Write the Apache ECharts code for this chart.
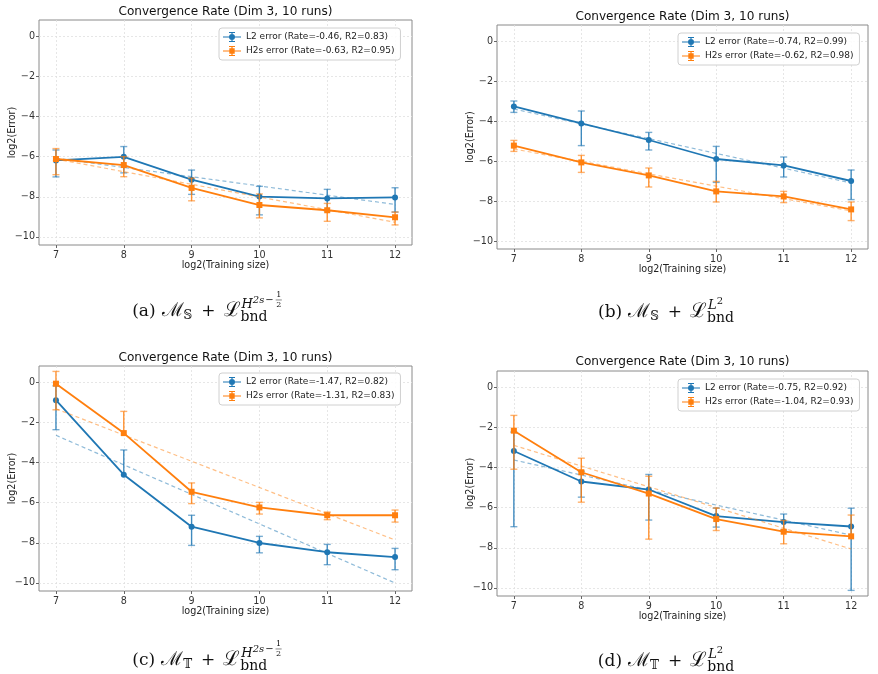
<!DOCTYPE html>
<html>
<head>
<meta charset="utf-8">
<script src="https://cdn.jsdelivr.net/npm/echarts@6/dist/echarts.min.js"></script>
<style>
  html, body { margin: 0; padding: 0; background: #fff; }
  #chart { width: 878px; height: 674px; }
</style>
</head>
<body>
<div id="chart"></div>
<script>
// log2(training size) on the x axis
const trainSize = [7, 8, 9, 10, 11, 12];
const fitX = [7, 12];
const xTicks = [7, 8, 9, 10, 11, 12];
const yTicks = [-10, -8, -6, -4, -2, 0];

// (a) M_S + L_bnd^{H^{2s-1/2}}
const aL2 = [-6.19, -6.01, -7.15, -7.99, -8.08, -8.03];
const aL2Lo = [-7.01, -6.81, -7.88, -8.9, -8.7, -8.76];
const aL2Hi = [-5.67, -5.5, -6.67, -7.48, -7.63, -7.55];
const aH2 = [-6.12, -6.42, -7.56, -8.41, -8.67, -9.02];
const aH2Lo = [-6.9, -7.0, -8.2, -9.05, -9.22, -9.4];
const aH2Hi = [-5.6, -6.0, -7.07, -7.86, -8.33, -8.76];
const aL2Fit = [-6.08, -8.38];
const aH2Fit = [-6.12, -9.27];

// (b) M_S + L_bnd^{L2}
const bL2 = [-3.27, -4.12, -4.95, -5.9, -6.22, -7.0];
const bL2Lo = [-3.57, -5.23, -5.45, -7.07, -6.8, -7.93];
const bL2Hi = [-3.0, -3.5, -4.57, -5.27, -5.8, -6.45];
const bH2 = [-5.23, -6.07, -6.72, -7.52, -7.77, -8.42];
const bH2Lo = [-5.52, -6.57, -7.3, -8.05, -8.08, -8.98];
const bH2Hi = [-4.97, -5.72, -6.35, -7.02, -7.52, -8.05];
const bL2Fit = [-3.4, -7.1];
const bH2Fit = [-5.4, -8.5];

// (c) M_T + L_bnd^{H^{2s-1/2}}
const cL2 = [-0.9, -4.61, -7.2, -8.01, -8.47, -8.71];
const cL2Lo = [-2.37, null, -8.13, -8.5, -9.09, -9.34];
const cL2Hi = [-0.19, -3.38, -6.63, -7.68, -8.08, -8.28];
const cH2 = [-0.08, -2.54, -5.46, -6.24, -6.63, -6.63];
const cH2Lo = [-1.38, null, -6.05, -6.57, -6.85, -6.97];
const cH2Hi = [0.53, -1.46, -5.02, -5.99, -6.47, -6.37];
const cL2Fit = [-2.65, -10.0];
const cH2Fit = [-1.33, -7.86];

// (d) M_T + L_bnd^{L2}
const dL2 = [-3.18, -4.7, -5.1, -6.42, -6.72, -6.94];
const dL2Lo = [-6.95, -5.48, -6.62, -6.97, -7.12, -10.12];
const dL2Hi = [-2.24, -4.19, -4.35, -6.02, -6.32, -6.03];
const dH2 = [-2.17, -4.24, -5.3, -6.57, -7.2, -7.43];
const dH2Lo = [-4.09, -5.73, -7.57, -7.14, -7.8, null];
const dH2Hi = [-1.41, -3.54, -4.44, -6.03, -6.64, -6.37];
const dL2Fit = [-3.63, -7.37];
const dH2Fit = [-2.9, -8.06];

const l2Names = [
  'L2 error (Rate=-0.46, R2=0.83)', 'L2 error (Rate=-0.74, R2=0.99)',
  'L2 error (Rate=-1.47, R2=0.82)', 'L2 error (Rate=-0.75, R2=0.92)'
];
const h2Names = [
  'H2s error (Rate=-0.63, R2=0.95)', 'H2s error (Rate=-0.62, R2=0.98)',
  'H2s error (Rate=-1.31, R2=0.83)', 'H2s error (Rate=-1.04, R2=0.93)'
];
const plotTitle = 'Convergence Rate (Dim 3, 10 runs)';
const xName = 'log2(Training size)';
const yName = 'log2(Error)';

const BLUE = '#1f77b4';
const ORANGE = '#ff7f0e';
const FONT = 'DejaVu Sans';

const panels = [
  { box: { left: 39, top: 20, width: 373, height: 225 }, leg: { left: 219, top: 28 }, titleY: 12,
    l2: [aL2, aL2Lo, aL2Hi, aL2Fit], h2: [aH2, aH2Lo, aH2Hi, aH2Fit] },
  { box: { left: 497, top: 25, width: 371, height: 224 }, leg: { left: 678, top: 33 }, titleY: 17,
    l2: [bL2, bL2Lo, bL2Hi, bL2Fit], h2: [bH2, bH2Lo, bH2Hi, bH2Fit] },
  { box: { left: 39, top: 366, width: 373, height: 225 }, leg: { left: 219, top: 373 }, titleY: 358,
    l2: [cL2, cL2Lo, cL2Hi, cL2Fit], h2: [cH2, cH2Lo, cH2Hi, cH2Fit] },
  { box: { left: 497, top: 371, width: 371, height: 225 }, leg: { left: 678, top: 379 }, titleY: 362,
    l2: [dL2, dL2Lo, dL2Hi, dL2Fit], h2: [dH2, dH2Lo, dH2Hi, dH2Fit] }
];

// legend handles: line + error bar with caps + marker
const circleIcon = 'path://M0,4.4H18V5.6H0Z M8.4,0H9.6V10H8.4Z M6,0H12V1H6Z M6,9H12V10H6Z M6,5A3,3 0 1,1 12,5A3,3 0 1,1 6,5Z';
const squareIcon = 'path://M0,4.4H18V5.6H0Z M8.4,0H9.6V10H8.4Z M6,0H12V1H6Z M6,9H12V10H6Z M6.3,2.3H11.7V7.7H6.3Z';

function errorBars(mid, lo, hi, color) {
  return function (params, api) {
    const i = params.dataIndex;
    const x = trainSize[i];
    const c = api.coord([x, mid[i]]);
    const top = api.coord([x, hi[i]]);
    const children = [
      { type: 'line', shape: { x1: c[0], y1: c[1], x2: top[0], y2: top[1] },
        style: { stroke: color, lineWidth: 1.4, opacity: 0.85 } },
      { type: 'line', shape: { x1: top[0] - 3.5, y1: top[1], x2: top[0] + 3.5, y2: top[1] },
        style: { stroke: color, lineWidth: 1.4, opacity: 0.6 } }
    ];
    if (lo[i] != null) {
      const bot = api.coord([x, lo[i]]);
      children.push(
        { type: 'line', shape: { x1: c[0], y1: c[1], x2: bot[0], y2: bot[1] },
          style: { stroke: color, lineWidth: 1.4, opacity: 0.85 } },
        { type: 'line', shape: { x1: bot[0] - 3.5, y1: bot[1], x2: bot[0] + 3.5, y2: bot[1] },
          style: { stroke: color, lineWidth: 1.4, opacity: 0.6 } }
      );
    }
    return { type: 'group', children: children };
  };
}

const grid = [], xAxis = [], yAxis = [], series = [], legend = [], graphic = [];

panels.forEach((p, k) => {
  grid.push(Object.assign({ show: true, borderColor: '#8a8a8a', borderWidth: 1, backgroundColor: '#fff' }, p.box));
  xAxis.push({
    type: 'value', gridIndex: k, min: 6.75, max: 12.25,
    name: xName, nameLocation: 'middle', nameGap: 15,
    nameTextStyle: { fontFamily: FONT, fontSize: 9.6, color: '#222' },
    axisLine: { show: false, onZero: false },
    axisTick: { show: true, length: 3, inside: false, customValues: xTicks, lineStyle: { color: '#666' } },
    axisLabel: { customValues: xTicks, margin: 5, fontFamily: FONT, fontSize: 9.6, color: '#333' },
    splitLine: { show: true, lineStyle: { color: '#e0e0e0', type: [2, 2], width: 0.8 } }
  });
  yAxis.push({
    type: 'value', gridIndex: k, min: -10.4, max: 0.8,
    axisLine: { show: false, onZero: false },
    axisTick: { show: true, length: 3, customValues: yTicks, lineStyle: { color: '#666' } },
    axisLabel: { customValues: yTicks, margin: 4, fontFamily: FONT, fontSize: 9.6, color: '#333',
      formatter: v => String(v).replace('-', '\u2212') },
    splitLine: { show: true, lineStyle: { color: '#e0e0e0', type: [2, 2], width: 0.8 } }
  });

  const sets = [[p.l2, BLUE, l2Names[k], 'circle', 6], [p.h2, ORANGE, h2Names[k], 'rect', 6]];
  sets.forEach(([d, color, name, sym, size], j) => {
    const [mid, lo, hi, fit] = d;
    series.push({
      type: 'custom', xAxisIndex: k, yAxisIndex: k, z: 2 + j * 3, silent: true,
      data: trainSize.map((x, i) => [x, mid[i]]),
      renderItem: errorBars(mid, lo, hi, color)
    });
    series.push({
      name: name, type: 'line', xAxisIndex: k, yAxisIndex: k, z: 3 + j * 3,
      data: trainSize.map((x, i) => [x, mid[i]]),
      symbol: sym, symbolSize: size, showSymbol: true,
      lineStyle: { color: color, width: 1.8 }, itemStyle: { color: color },
      emphasis: { disabled: true }, animation: false
    });
    series.push({
      type: 'line', xAxisIndex: k, yAxisIndex: k, z: 4 + j * 3, silent: true,
      data: fitX.map((x, i) => [x, fit[i]]), symbol: 'none',
      lineStyle: { color: color, width: 1.2, type: [4, 3], opacity: 0.5 }, animation: false
    });
  });

  legend.push({
    orient: 'vertical', left: p.leg.left, top: p.leg.top, itemWidth: 18, itemHeight: 10, itemGap: 4,
    padding: [4, 6, 4, 4], backgroundColor: 'rgba(255,255,255,0.85)', borderColor: '#d0d0d0',
    borderWidth: 1, borderRadius: 3, selectedMode: false,
    textStyle: { fontFamily: FONT, fontSize: 9, color: '#222' },
    data: [{ name: l2Names[k], icon: circleIcon }, { name: h2Names[k], icon: squareIcon }]
  });

  graphic.push({
    type: 'text', x: p.box.left + p.box.width / 2, y: p.titleY,
    style: { text: plotTitle, font: '12.1px "' + FONT + '"', fill: '#111', align: 'center', verticalAlign: 'middle' }
  });
  // y axis title, rotated
  graphic.push({
    type: 'text', x: p.box.left - 27, y: p.box.top + p.box.height / 2, rotation: Math.PI / 2,
    style: { text: yName, font: '9.6px "' + FONT + '"', fill: '#222', align: 'center', verticalAlign: 'middle' }
  });
});

// captions in a LaTeX-like look, laid out piece by piece
const mctx = document.createElement('canvas').getContext('2d');
const SERIF = '"DejaVu Serif"';
function fontOf(p) { return (p.it ? 'italic ' : '') + p.s + 'px ' + SERIF; }
function caption(cx, base, parts) {
  let x = 0, mark = 0, right = 0;
  const placed = [];
  parts.forEach(p => {
    mctx.font = fontOf(p);
    let w;
    if (p.frac) {
      w = Math.max(mctx.measureText(p.frac[0]).width, mctx.measureText(p.frac[1]).width) + 1;
    } else {
      w = mctx.measureText(p.t).width;
    }
    if (p.mark) mark = x;
    const start = p.reset ? mark : x + (p.gap || 0);
    placed.push({ p: p, x: start, w: w });
    x = start + w;
    right = Math.max(right, x);
    if (p.reset) x = right;
  });
  const x0 = cx - right / 2;
  placed.forEach(({ p, x, w }) => {
    const by = base + (p.dy || 0);
    if (p.frac) {
      graphic.push(
        { type: 'text', x: x0 + x + w / 2, y: by - p.s * 0.95, style: { text: p.frac[0], font: fontOf(p), fill: '#111', align: 'center', verticalAlign: 'middle' } },
        { type: 'text', x: x0 + x + w / 2, y: by + p.s * 0.2, style: { text: p.frac[1], font: fontOf(p), fill: '#111', align: 'center', verticalAlign: 'middle' } },
        { type: 'line', shape: { x1: x0 + x, y1: by - p.s * 0.38, x2: x0 + x + w, y2: by - p.s * 0.38 }, style: { stroke: '#111', lineWidth: 0.5 } }
      );
    } else {
      graphic.push({ type: 'text', x: x0 + x, y: by - p.s * 0.32,
        style: { text: p.t, font: fontOf(p), fill: '#111', align: 'left', verticalAlign: 'middle' } });
    }
  });
}
function captionHead(letter, set) {
  return [
    { t: '(' + letter + ')', s: 17 },
    { t: '\u2133', s: 19, gap: 6 },
    { t: set, s: 12, dy: 3 },
    { t: '+', s: 17, gap: 9 },
    { t: '\u2112', s: 20, gap: 8 }
  ];
}
function hCaption(letter, set, cx, base) {
  caption(cx, base, captionHead(letter, set).concat([
    { t: 'H', s: 13, it: true, dy: -8, mark: true, gap: 1 },
    { t: '2s', s: 10, it: true, dy: -13 },
    { t: '\u2212', s: 10, dy: -13, gap: 1 },
    { frac: ['1', '2'], s: 8, dy: -14, gap: 2 },
    { t: 'bnd', s: 14, dy: 5, reset: true }
  ]));
}
function lCaption(letter, set, cx, base) {
  caption(cx, base, captionHead(letter, set).concat([
    { t: 'L', s: 13, it: true, dy: -8, mark: true, gap: 1 },
    { t: '2', s: 10, dy: -13 },
    { t: 'bnd', s: 14, dy: 5, reset: true }
  ]));
}
hCaption('a', '\u{1D54A}', 207, 317);
lCaption('b', '\u{1D54A}', 666, 318);
hCaption('c', '\u{1D54B}', 207, 666);
lCaption('d', '\u{1D54B}', 666, 667);

const chart = echarts.init(document.getElementById('chart'), null, { renderer: 'canvas' });
chart.setOption({
  backgroundColor: '#fff',
  animation: false,
  grid: grid,
  xAxis: xAxis,
  yAxis: yAxis,
  legend: legend,
  series: series,
  graphic: graphic
});
</script>
</body>
</html>
